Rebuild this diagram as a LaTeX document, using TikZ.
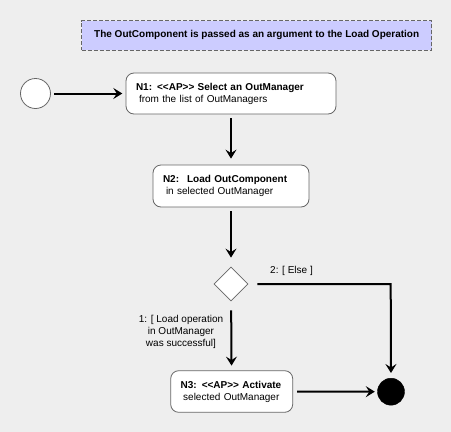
\documentclass[tikz,border=0pt]{standalone}
\usepackage{fontspec}
\setmainfont{Liberation Sans}
\usetikzlibrary{shapes.geometric,arrows.meta}
\definecolor{bg}{RGB}{238,238,238}
\definecolor{notefill}{RGB}{204,204,255}
\definecolor{bord}{RGB}{102,102,102}
\tikzset{
  act/.style={draw=bord, fill=white, rounded corners=8pt, line width=0.8pt,
    align=left, inner xsep=10pt, inner ysep=0pt, minimum height=41pt,
    font=\fontsize{10}{12}\selectfont},
  note/.style={draw=bord, fill=notefill, dash pattern=on 4pt off 2pt, line width=0.8pt,
    minimum width=350pt, minimum height=29.3pt, inner sep=0pt,
    font=\fontsize{10}{12}\selectfont\bfseries},
  startc/.style={circle, draw=bord, fill=white, line width=0.8pt, minimum size=30pt, inner sep=0pt},
  endc/.style={circle, draw=black, fill=black, minimum size=27pt, inner sep=0pt},
  dec/.style={diamond, draw=bord, fill=white, line width=0.8pt, minimum width=34pt, minimum height=34pt, inner sep=0pt},
  flow/.style={line width=2pt, -{Stealth[length=9pt,width=11pt,inset=3.5pt]}},
  lbl/.style={font=\fontsize{10}{12}\selectfont, align=center, inner sep=0pt}
}
\begin{document}
\begin{tikzpicture}[x=1pt,y=-1pt]
\fill[bg] (0,0) rectangle (451,432);
\useasboundingbox (0,0) rectangle (451,432);

\node[note] (note) at (256.7,35.3) {The OutComponent is passed as an argument to the Load Operation};

\node[startc] (start) at (35.5,93.5) {};
\node[act, text width=190pt] (n1) at (231,93.5)
  {\textbf{N1: <{}<AP>{}> Select an OutManager}\\\hspace*{3pt}from the list of OutManagers};
\node[act, text width=136pt, minimum height=42pt] (n2) at (231,186)
  {\textbf{N2:\hspace{8pt}Load OutComponent}\\\hspace*{3pt}in selected OutManager};
\node[dec] (d) at (231,284) {};
\node[act, text width=102pt, minimum height=41.6pt] (n3) at (231.7,391.5)
  {\textbf{N3: <{}<AP>{}> Activate}\\\hspace*{2.5pt}selected OutManager};
\node[endc] (fin) at (391,391.7) {};

\coordinate (corner) at (390.7,284);

\draw[flow, shorten <=3.5pt, shorten >=3.3pt] (start) -- (n1);
\draw[flow, shorten <=4pt, shorten >=6pt] (n1) -- (n2);
\draw[flow, shorten <=4pt, shorten >=9pt] (n2) -- (d);
\draw[flow, shorten <=9pt, shorten >=4.7pt] (d) -- (n3);
\draw[flow, shorten <=9pt, shorten >=5pt] (d.east) -- (corner) -- (fin.north);
\draw[flow, shorten <=4pt, shorten >=2.5pt] (n3) -- (fin);

\node[lbl] (l2) at (291.5,271) {2: [ Else ]};
\node[lbl] (l1) at (181,332.3) {1: [ Load operation\\in OutManager\\was successful]};
\end{tikzpicture}
\end{document}
